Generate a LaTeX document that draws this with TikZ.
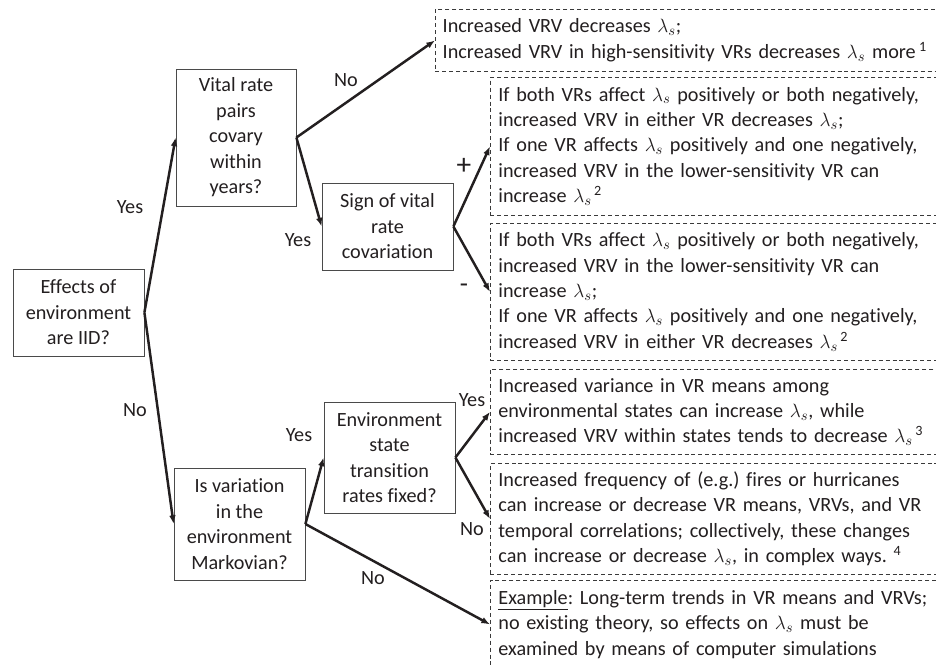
\documentclass[tikz,border=0pt]{standalone}
\usepackage{fontspec}
\setmainfont{Carlito}[Ligatures=CommonOff]
\usetikzlibrary{arrows.meta}
\definecolor{ink}{HTML}{231F20}
\definecolor{boxgray}{HTML}{4A4A4A}
\definecolor{dashgray}{HTML}{3A3A3A}
\newcommand\mytxt{\fontsize{15.15}{19.1}\selectfont}
\frenchspacing
\begin{document}
\begin{tikzpicture}[x=0.75pt,y=-0.75pt,
  q/.style={draw=boxgray, line width=0.6pt, align=center, inner sep=0pt, font=\mytxt, text=ink},
  res/.style={draw=dashgray, line width=0.6pt, dash pattern=on 3pt off 2.2pt, anchor=north west, align=left,
              text width=390pt, inner xsep=6pt, inner ysep=0pt, font=\mytxt, text=ink},
  arr/.style={-{Latex[length=6.5pt,width=5pt]}, line width=1.85pt, draw=ink},
  lab/.style={font=\mytxt, text=ink, inner sep=0pt}]
\useasboundingbox (0,0) rectangle (936,665);
\clip (0,0) rectangle (936,665);
\fill[white] (0,0) rectangle (936,665);

% question boxes
\node[q, minimum width=98.25pt, minimum height=65.25pt] (eff) at (78.5,312.5) {Effects of\\environment\\are IID?};
\node[q, minimum width=90pt, minimum height=102.75pt] (vit) at (236,137.5) {Vital rate\\pairs\\covary\\within\\years?};
\node[q, minimum width=98.25pt, minimum height=65.25pt] (sgn) at (387.5,226.5) {Sign of vital\\rate\\covariation};
\node[q, minimum width=98.25pt, minimum height=84pt] (mar) at (239.5,524) {Is variation\\in the\\environment\\Markovian?};
\node[q, minimum width=98.25pt, minimum height=83.25pt] (env) at (389.5,457.5) {Environment\\state\\transition\\rates fixed?};

% result boxes
\node[res, minimum height=46.5pt, text width=400pt, inner xsep=5.5pt] (b1) at (435,9) {Increased VRV decreases $\lambda_s$;\\Increased VRV in high-sensitivity VRs decreases $\lambda_s$ more\,\textsuperscript{1}};
\node[res, minimum height=103.5pt] (b2) at (490,77) {If both VRs affect $\lambda_s$ positively or both negatively,\\increased VRV in either VR decreases $\lambda_s$;\\If one VR affects $\lambda_s$ positively and one negatively,\\increased VRV in the lower-sensitivity VR can\\increase $\lambda_s$\textsuperscript{\,2}};
\node[res, minimum height=102.75pt] (b3) at (490,223) {If both VRs affect $\lambda_s$ positively or both negatively,\\increased VRV in the lower-sensitivity VR can\\increase $\lambda_s$;\\If one VR affects $\lambda_s$ positively and one negatively,\\increased VRV in either VR decreases $\lambda_s$\textsuperscript{\,2}};
\node[res, minimum height=63.75pt] (b4) at (490,369) {Increased variance in VR means among\\environmental states can increase $\lambda_s$, while\\increased VRV within states tends to decrease $\lambda_s$\textsuperscript{\,3}};
\node[res, minimum height=83.25pt] (b5) at (490,463) {Increased frequency of (e.g.) fires or hurricanes\\can increase or decrease VR means, VRVs, and VR\\temporal correlations; collectively, these changes\\can increase or decrease $\lambda_s$, in complex ways. \textsuperscript{4}};
\node[res, minimum height=66pt] (b6) at (490,580) {\underline{Example}: Long-term trends in VR means and VRVs;\\no existing theory, so effects on $\lambda_s$ must be\\examined by means of computer simulations};

% connectors
\draw[arr] (eff.east) -- (vit.west);
\draw[arr] (eff.east) -- (mar.west);
\draw[arr] (vit.east) -- (b1.west);
\draw[arr] (vit.east) -- (sgn.west);
\draw[arr] (sgn.east) -- (b2.west);
\draw[arr] (sgn.east) -- (b3.west);
\draw[arr] (mar.east) -- (env.west);
\draw[arr] (mar.east) -- (b6.west);
\draw[arr] (env.east) -- (b4.west);
\draw[arr] (env.east) -- (b5.west);

% labels
\node[lab] (l1) at (130,207) {Yes};
\node[lab] (l2) at (135,410) {No};
\node[lab] (l3) at (346,80) {No};
\node[lab] (l4) at (298,240) {Yes};
\node[lab, font=\fontsize{22}{24}\selectfont] (l5) at (464,166) {+};
\node[lab, font=\fontsize{20}{24}\selectfont] (l6) at (464,288) {-};
\node[lab] (l7) at (299,435) {Yes};
\node[lab] (l8) at (472,400) {Yes};
\node[lab] (l9) at (472,529) {No};
\node[lab] (l10) at (373,578) {No};
\end{tikzpicture}
\end{document}
